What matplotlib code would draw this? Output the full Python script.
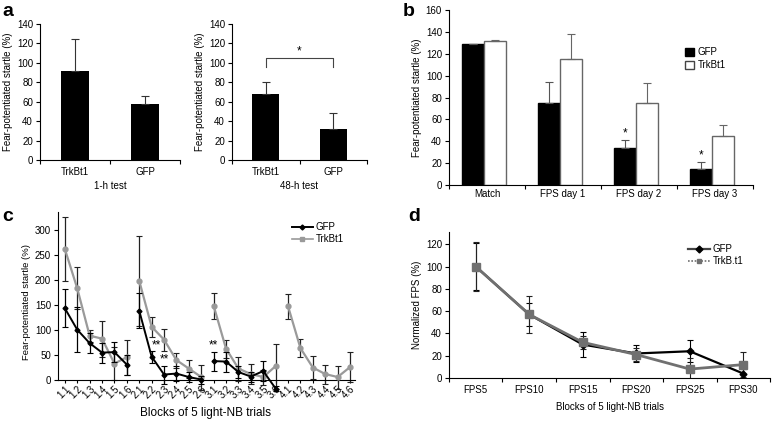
import matplotlib
matplotlib.use("Agg")
import matplotlib.pyplot as plt
import numpy as np
from matplotlib.lines import Line2D
from matplotlib.patches import Patch

plt.rcParams['font.family'] = ['Liberation Sans', 'DejaVu Sans']
plt.rcParams['font.size'] = 7
plt.rcParams['axes.linewidth'] = 0.8
plt.rcParams['xtick.major.width'] = 0.8
plt.rcParams['ytick.major.width'] = 0.8
plt.rcParams['xtick.major.size'] = 3
plt.rcParams['ytick.major.size'] = 3

# ---------------- Data ----------------
# Panel a
a_groups = ["TrkBt1", "GFP"]
a1_vals = [92, 58]
a1_err = [33, 8]
a2_vals = [68, 32]
a2_err = [12, 16]

# Panel b
b_cats = ["Match", "FPS day 1", "FPS day 2", "FPS day 3"]
b_gfp = [129, 75, 34, 15]
b_gfp_err = [0, 19, 7, 6]
b_trk = [132, 115, 75, 45]
b_trk_err = [1, 23, 18, 10]

# Panel c
c_labels = ["1.1", "1.2", "1.3", "1.4", "1.5", "1.6",
            "2.1", "2.2", "2.3", "2.4", "2.5", "2.6",
            "3.1", "3.2", "3.3", "3.4", "3.5", "3.6",
            "4.1", "4.2", "4.3", "4.4", "4.5", "4.6"]
c_gfp = [143, 100, 73, 54, 55, 30,
         138, 46, 10, 12, 5, 0,
         37, 36, 15, 6, 17, -18,
         None, None, None, None, None, None]
c_gfp_err = [38, 45, 20, 20, 20, 20,
             35, 12, 18, 15, 10, 8,
             19, 20, 12, 10, 20, 5,
             None, None, None, None, None, None]
c_trk = [262, 183, 88, 82, 32, 45,
         198, 106, 80, 39, 22, 5,
         148, 62, 22, 11, 5, 27,
         147, 63, 24, 11, 5, 25]
c_trk_err = [64, 42, 12, 36, 33, 35,
             90, 20, 22, 15, 18, 25,
             26, 18, 24, 20, 15, 45,
             25, 18, 23, 19, 23, 30]

# Panel d
d_cats = ["FPS5", "FPS10", "FPS15", "FPS20", "FPS25", "FPS30"]
d_gfp = [100, 57, 30, 22, 24, 4]
d_gfp_err = [21, 10, 11, 8, 10, 4]
d_trk = [100, 57, 32, 21, 8, 12]
d_trk_err = [22, 17, 6, 6, 10, 11]

W, H = 772, 421
fig = plt.figure(figsize=(W / 100, H / 100), dpi=100)


def ax_px(x0, y0, x1, y1):
    return fig.add_axes([x0 / W, 1 - y1 / H, (x1 - x0) / W, (y1 - y0) / H])


def style(ax):
    ax.spines['top'].set_visible(False)
    ax.spines['right'].set_visible(False)
    ax.tick_params(direction='out', length=3, pad=2, labelsize=7)


ylab = "Fear-potentiated startle (%)"

# ---------------- Panel a ----------------
for (x0, x1, vals, errs, xl) in [(40, 180, a1_vals, a1_err, "1-h test"),
                                 (232, 367, a2_vals, a2_err, "48-h test")]:
    ax = ax_px(x0, 24, x1, 160)
    style(ax)
    xs = np.arange(len(a_groups))
    ax.bar(xs, vals, width=0.4, color='black',
           yerr=[np.zeros(len(errs)), errs], ecolor='#333333',
           error_kw=dict(lw=0.8, capsize=3, capthick=0.8))
    ax.set_xlim(-0.5, 1.5)
    ax.set_ylim(0, 140)
    ax.set_yticks(range(0, 141, 20))
    ax.set_xticks([-0.5, 0.5, 1.5])
    ax.set_xticklabels([])
    ax.set_xticks(xs, minor=True)
    ax.set_xticklabels(a_groups, minor=True)
    ax.tick_params(axis='x', which='minor', length=0, pad=5, labelsize=7)
    ax.set_xlabel(xl, fontsize=7, labelpad=3)
    ax.set_ylabel(ylab, fontsize=7, labelpad=3)
    if xl == "48-h test":
        ax.plot([0, 0, 1, 1], [96, 105, 105, 96], color='#444444', lw=0.8)
        ax.text(0.5, 106, "*", ha='center', va='bottom', fontsize=8.5)

# ---------------- Panel b ----------------
ax = ax_px(449, 10, 753, 185)
style(ax)
xs = np.arange(len(b_cats))
bw = 0.29
ax.bar(xs - bw / 2 - 0.04, b_gfp, width=bw, color='black', edgecolor='black',
       yerr=[np.zeros(4), b_gfp_err], ecolor='#555555',
       error_kw=dict(lw=0.8, capsize=3, capthick=0.8))
ax.bar(xs + bw / 2 - 0.04, b_trk, width=bw, color='white', edgecolor='#666666', linewidth=1.0,
       yerr=[np.zeros(4), b_trk_err], ecolor='#666666',
       error_kw=dict(lw=0.8, capsize=3, capthick=0.8))
ax.set_xlim(-0.5, 3.5)
ax.set_ylim(0, 160)
ax.set_yticks(range(0, 161, 20))
ax.set_xticks(np.arange(-0.5, 3.6, 1))
ax.set_xticklabels([])
ax.set_xticks(xs, minor=True)
ax.set_xticklabels(b_cats, minor=True)
ax.tick_params(axis='x', which='minor', length=0, pad=3, labelsize=7)
ax.set_ylabel(ylab, fontsize=7, labelpad=3)
for i in (2, 3):
    ax.text(i - bw / 2 - 0.04, b_gfp[i] + b_gfp_err[i] + 1, "*", ha='center', va='bottom', fontsize=8.5)
ax.legend([Patch(facecolor='black', edgecolor='black'),
           Patch(facecolor='white', edgecolor='#444444')],
          ["GFP", "TrkBt1"], loc='upper left', bbox_to_anchor=(0.76, 0.815),
          frameon=False, fontsize=7, handlelength=0.9, handleheight=0.9,
          handletextpad=0.4, labelspacing=0.3, borderpad=0)

# ---------------- Panel c ----------------
ax = ax_px(58, 212, 355, 392)
style(ax)
n = len(c_labels)
xpos = np.arange(n)
gray = '#9a9a9a'
for g in range(4):
    sl = slice(6 * g, 6 * g + 6)
    xx = xpos[sl]
    t = np.array(c_trk[sl], dtype=float)
    te = np.array(c_trk_err[sl], dtype=float)
    ax.errorbar(xx, t, yerr=te, fmt='none', ecolor='#222222', elinewidth=0.9,
                capsize=2.5, capthick=0.8, zorder=2)
    ax.plot(xx, t, color=gray, lw=1.6, marker='o', ms=3.5, mfc=gray, mec=gray, zorder=3)
    gv = [v for v in c_gfp[sl] if v is not None]
    if gv:
        ge = np.array(c_gfp_err[sl][:len(gv)], dtype=float)
        gx = xx[:len(gv)]
        ax.errorbar(gx, gv, yerr=ge, fmt='none', ecolor='black', elinewidth=0.9,
                    capsize=2.5, capthick=0.8, zorder=4)
        ax.plot(gx, gv, color='black', lw=1.4, marker='D', ms=2.5, zorder=5)
ax.set_xlim(-0.55, 23.4)
ax.set_ylim(-25, 336)
ax.spines['bottom'].set_position(('data', 0))
ax.spines['left'].set_bounds(0, 336)
ax.set_yticks(range(0, 301, 50))
ax.set_xticks(xpos)
ax.set_xticklabels(c_labels, rotation=45, ha='right', rotation_mode='anchor', fontsize=7)
ax.tick_params(axis='x', length=2, pad=1)
ax.set_ylabel(ylab, fontsize=6.8, labelpad=3)
fig.text(205 / W, 1 - 413 / H, "Blocks of 5 light-NB trials", ha='center', va='center', fontsize=8.5)
for (sx, sy) in [(7.4, 56), (8.0, 29), (12.0, 57)]:
    ax.text(sx, sy, "**", ha='center', va='bottom', fontsize=8.5)
ax.legend([Line2D([], [], color='black', lw=1.4, marker='D', ms=2.5),
           Line2D([], [], color=gray, lw=1.2, marker='s', ms=2.5)],
          ["GFP", "TrkBt1"], loc='upper left', bbox_to_anchor=(0.77, 0.97),
          frameon=False, fontsize=7, handlelength=2.2, handletextpad=0.3,
          labelspacing=0.2, borderpad=0)

# ---------------- Panel d ----------------
ax = ax_px(449, 232, 770, 378)
style(ax)
xs = np.arange(len(d_cats))
dgray = '#707070'
ax.errorbar(xs, d_gfp, yerr=d_gfp_err, fmt='none', ecolor='black', elinewidth=0.8,
            capsize=2.5, capthick=0.8, zorder=2)
ax.errorbar(xs, d_trk, yerr=d_trk_err, fmt='none', ecolor='#222222', elinewidth=0.8,
            capsize=2.5, capthick=0.8, zorder=2)
ax.plot(xs, d_gfp, color='black', lw=1.6, marker='D', ms=3.5, zorder=3)
ax.plot(xs, d_trk, color=dgray, lw=2.0, marker='s', ms=5.5, zorder=4)
ax.set_xlim(-0.5, 5.5)
ax.set_ylim(0, 131)
ax.set_yticks(range(0, 121, 20))
ax.set_xticks(np.arange(-0.5, 5.6, 1))
ax.set_xticklabels([])
ax.set_xticks(xs, minor=True)
ax.set_xticklabels(d_cats, minor=True)
ax.tick_params(axis='x', which='minor', length=0, pad=5, labelsize=7)
ax.set_ylabel("Normalized FPS (%)", fontsize=7, labelpad=3)
ax.set_xlabel("Blocks of 5 light-NB trials", fontsize=7, labelpad=5)
ax.legend([Line2D([], [], color='#444444', lw=1.6, marker='D', ms=3.5, mfc='black', mec='black'),
           Line2D([], [], color=dgray, lw=1.2, ls=(0, (1, 1)), marker='s', ms=3.5)],
          ["GFP", "TrkB.t1"], loc='upper left', bbox_to_anchor=(0.73, 0.95),
          frameon=False, fontsize=7, handlelength=2.2, handletextpad=0.3,
          labelspacing=0.2, borderpad=0)

# Panel letters
for (lx, ly, s) in [(2, 12, "a"), (403, 12, "b"), (2, 216, "c"), (408, 216, "d")]:
    fig.text(lx / W, 1 - ly / H, s, fontsize=14, fontweight='bold', va='center', ha='left')

fig.savefig("out.png", dpi=100)
